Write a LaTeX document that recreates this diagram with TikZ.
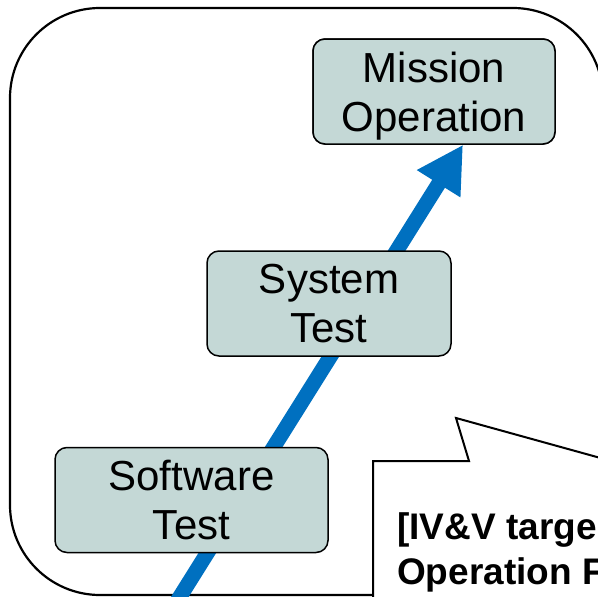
\documentclass[tikz,border=0pt]{standalone}
\usepackage{xcolor}
\usepackage{fontspec}
\setmainfont{Liberation Sans}
\usetikzlibrary{shapes,arrows,arrows.meta,positioning}

\definecolor{stagefill}{RGB}{196,216,214}
\definecolor{flowblue}{RGB}{0,112,192}

\begin{document}
\begin{tikzpicture}[
    x=1pt, y=-1pt,
    stage/.style={rectangle, rounded corners=12pt, draw=black, line width=1.5pt, fill=stagefill, align=center, inner sep=0pt, text depth=0pt, minimum height=105pt, font=\fontsize{42}{49}\selectfont},
    frame/.style={draw=black, line width=2.2pt, rounded corners=90pt},
    balloon/.style={draw=black, line width=2pt, fill=white},
    arrow/.style={line width=15pt, draw=flowblue, -{Triangle[length=46pt, width=48pt]}}
]
\useasboundingbox (0,0) rectangle (598,597);
\clip (0,0) rectangle (598,597);

% Outer frame
\draw[frame] (10,8) rectangle (603,595);

% Progress arrow
\coordinate (base) at (176,603);
\node[stage, minimum width=242pt] (mission) at (434,91.5) {Mission\\Operation};
\draw[arrow] (base) -- ([xshift=29pt]mission.south);

% Test stages
\node[stage, minimum width=244pt] (system) at (329,303.5) {System\\Test};
\node[stage, minimum width=273pt] (software) at (191.5,500) {Software\\Test};
\node[stage, minimum width=242pt] at (mission) {Mission\\Operation};

% Callout
\draw[balloon] (373,620) -- (373,461) -- (469,461) -- (456,418) -- (680,480) -- (680,620) -- cycle;
\node[anchor=base west, align=left, inner sep=0pt, font=\fontsize{37}{45}\selectfont\bfseries] (target) at (397,584) {[IV\&V targe\\Operation F};

\end{tikzpicture}
\end{document}
